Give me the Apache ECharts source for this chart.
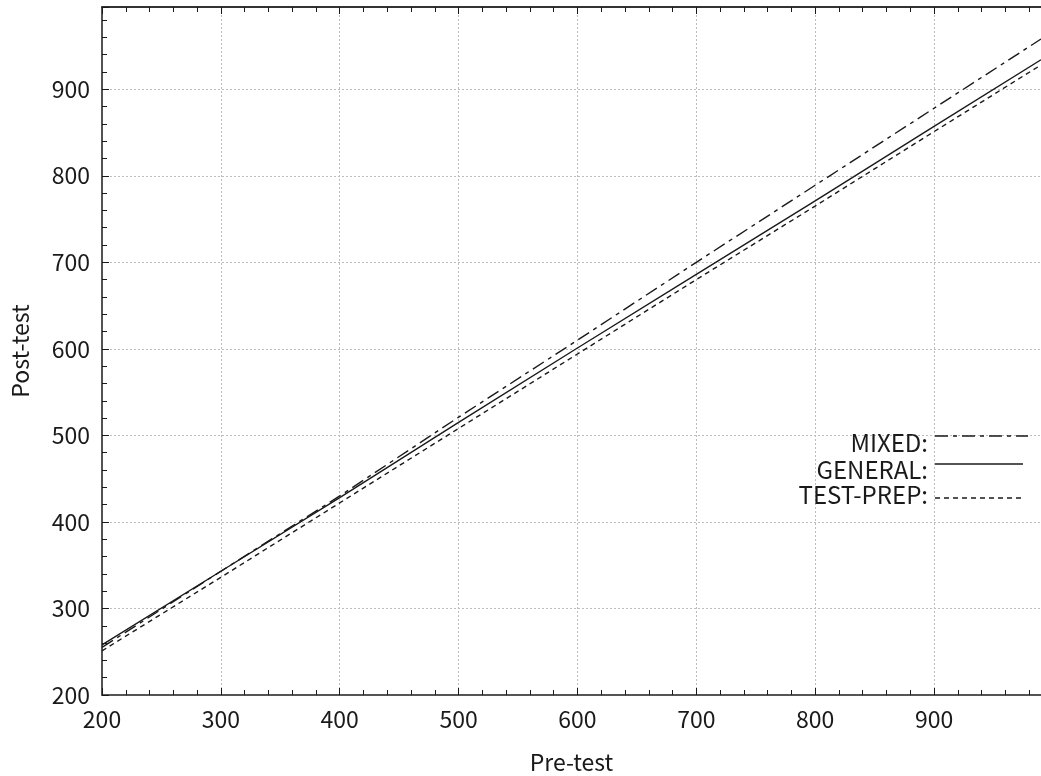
<!DOCTYPE html>
<html>
<head>
<meta charset="utf-8">
<script src="https://cdn.jsdelivr.net/npm/echarts@6/dist/echarts.min.js"></script>
<style>
  html, body { margin: 0; padding: 0; background: #fff; }
  #chart { width: 1041px; height: 776px; }
</style>
</head>
<body>
<div id="chart"></div>
<script>
// Pre-test scores at which each regression line is sampled
const preTest = [200, 300, 400, 500, 600, 700, 800, 900, 990];

// Predicted post-test scores per group
const mixed    = [255, 343, 430, 521, 610, 700, 789, 878, 958];
const general  = [258, 343, 428, 515, 601, 686, 771, 857, 934];
const testPrep = [251, 336, 422, 508, 594, 680, 765, 851, 928];

const seriesNames = ['MIXED', 'GENERAL', 'TEST-PREP'];
const xTicks = [200, 300, 400, 500, 600, 700, 800, 900];
const yTicks = [200, 300, 400, 500, 600, 700, 800, 900];

const FONT = '"Noto Sans CJK JP", "Noto Sans", sans-serif';
const INK = '#1a1a1a';
const dashMixed = [13, 5, 4, 5];
const dashPrep = [5, 4];

const pairs = (ys) => preTest.map((x, i) => [x, ys[i]]);

const chart = echarts.init(document.getElementById('chart'), null, { renderer: 'canvas' });

const axisCommon = {
  type: 'value',
  interval: 100,
  minorTick: { show: true, splitNumber: 5, length: 5, lineStyle: { color: INK, width: 1 } },
  axisTick: { show: true, inside: true, length: 7, lineStyle: { color: INK, width: 1 } },
  axisLine: { show: true, onZero: false, lineStyle: { color: INK, width: 1.5 } },
  splitLine: {
    show: true, showMinLine: false, showMaxLine: false,
    lineStyle: { color: '#bdbdbd', type: [2, 2], width: 1 }
  },
  minorSplitLine: { show: false },
  axisLabel: { color: INK, fontFamily: FONT, fontSize: 23 },
  nameTextStyle: { color: INK, fontFamily: FONT, fontSize: 23 }
};

const option = {
  animation: false,
  backgroundColor: '#fff',
  grid: {
    left: 102, right: 0, top: 7, bottom: 81,
    containLabel: false, outerBoundsMode: 'none'
  },
  xAxis: [
    Object.assign({}, axisCommon, {
      min: 200, max: 990,
      position: 'bottom',
      axisLine: { show: true, onZero: false, lineStyle: { color: '#555', width: 2 } },
      axisLabel: Object.assign({}, axisCommon.axisLabel, {
        margin: 13,
        formatter: (v) => (xTicks.indexOf(v) >= 0 ? String(v) : '')
      }),
      name: 'Pre-test',
      nameLocation: 'middle',
      nameGap: 56
    }),
    Object.assign({}, axisCommon, {
      min: 200, max: 990,
      position: 'top',
      axisLine: { show: true, onZero: false, lineStyle: { color: '#333', width: 2 } },
      splitLine: { show: false },
      axisLabel: { show: false }
    })
  ],
  yAxis: Object.assign({}, axisCommon, {
    min: 200, max: 995,
    axisLabel: Object.assign({}, axisCommon.axisLabel, {
      margin: 12,
      formatter: (v) => (yTicks.indexOf(v) >= 0 ? String(v) : '')
    }),
    name: 'Post-test',
    nameLocation: 'middle',
    nameGap: 70
  }),
  series: [
    {
      name: seriesNames[0], type: 'line', data: pairs(mixed), xAxisIndex: 0,
      showSymbol: false, symbol: 'none',
      lineStyle: { color: INK, width: 1.4, type: dashMixed }
    },
    {
      name: seriesNames[1], type: 'line', data: pairs(general), xAxisIndex: 0,
      showSymbol: false, symbol: 'none',
      lineStyle: { color: INK, width: 1.4, type: 'solid' }
    },
    {
      name: seriesNames[2], type: 'line', data: pairs(testPrep), xAxisIndex: 0,
      showSymbol: false, symbol: 'none',
      lineStyle: { color: INK, width: 1.4, type: dashPrep }
    }
  ],
  graphic: []
};

// Key: right-aligned group names followed by a line sample in each style
const keyRows = [
  { label: seriesNames[0] + ':', textY: 443, lineY: 436, x2: 1028, dash: dashMixed },
  { label: seriesNames[1] + ':', textY: 470, lineY: 464, x2: 1023, dash: null },
  { label: seriesNames[2] + ':', textY: 495, lineY: 498, x2: 1022, dash: dashPrep }
];
keyRows.forEach((r) => {
  option.graphic.push({
    type: 'text', x: 928, y: r.textY, z: 10,
    style: {
      text: r.label, fill: INK, font: '24px ' + FONT,
      textAlign: 'right', textVerticalAlign: 'middle'
    }
  });
  option.graphic.push({
    type: 'line', z: 10,
    shape: { x1: 935, y1: r.lineY, x2: r.x2, y2: r.lineY },
    style: { stroke: INK, lineWidth: 1.3, lineDash: r.dash || null }
  });
});

chart.setOption(option);
</script>
</body>
</html>
